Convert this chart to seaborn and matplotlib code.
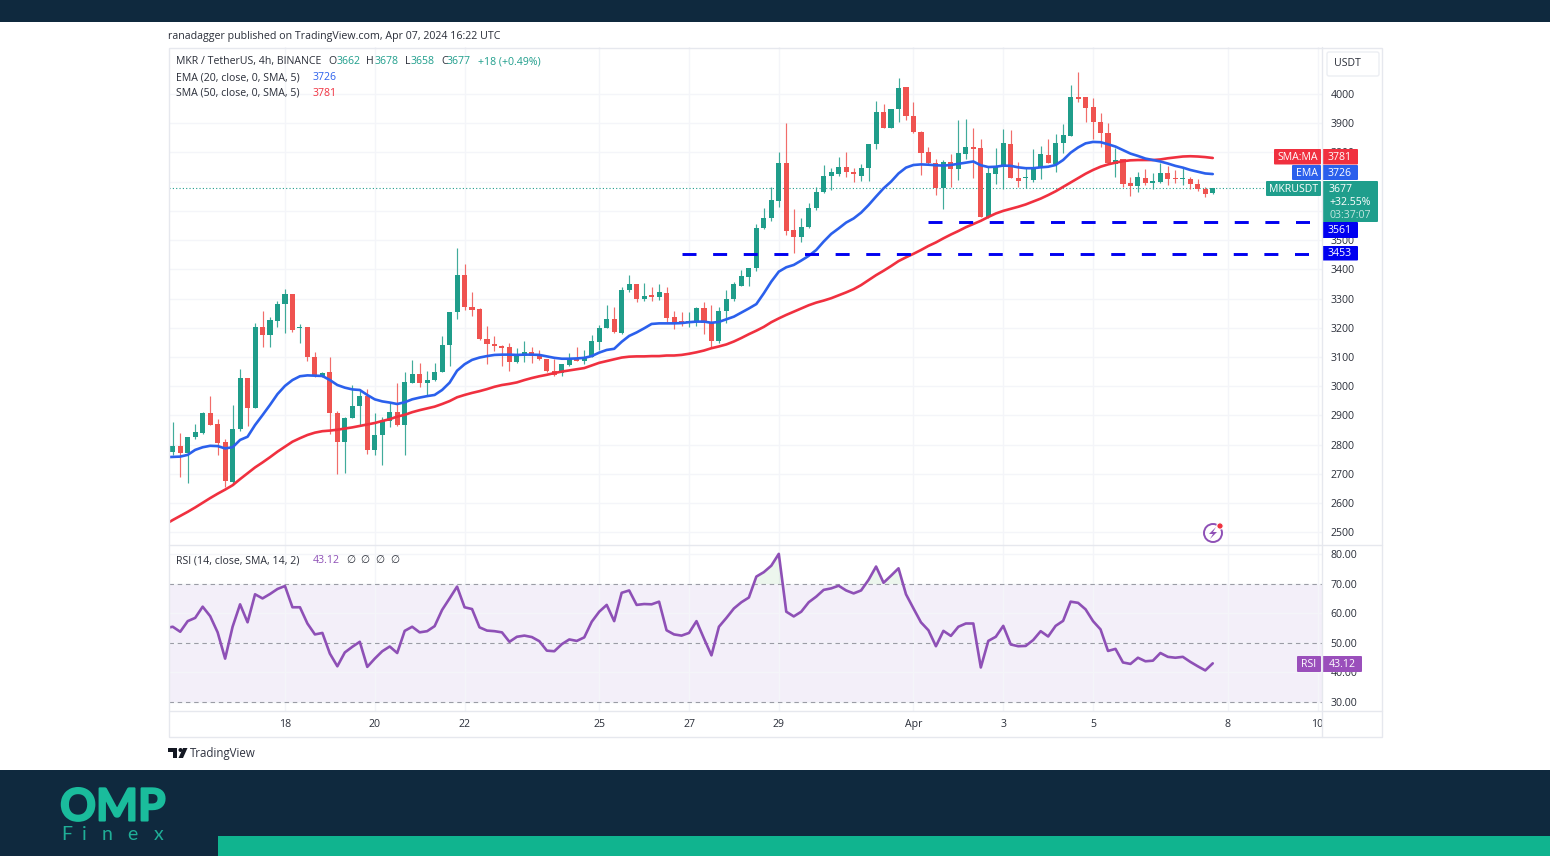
import matplotlib
matplotlib.use('Agg')
import matplotlib.pyplot as plt
from matplotlib.patches import Rectangle, FancyBboxPatch, Circle, Polygon
from matplotlib.patheffects import withStroke
from matplotlib.transforms import Bbox
import numpy as np
import seaborn as sns

# Candles, 4h bars
open_ = [2776, 2797, 2770, 2827, 2841, 2907, 2870, 2810, 2673, 2853,
         3028, 2927, 3201, 3175, 3224, 3281, 3314, 3199, 3201, 3101,
         3035, 3047, 2907, 2809, 2892, 2932, 2968, 2780, 2833, 2881,
         2910, 2866, 3012, 3042, 3010, 3021, 3050, 3141, 3255, 3380,
         3272, 3263, 3161, 3144, 3139, 3133, 3084, 3105, 3116, 3107,
         3092, 3053, 3044, 3073, 3095, 3087, 3101, 3152, 3198, 3230,
         3181, 3329, 3349, 3297, 3312, 3304, 3320, 3237, 3221, 3215,
         3221, 3269, 3217, 3155, 3258, 3297, 3343, 3375, 3403, 3540,
         3574, 3635, 3765, 3534, 3512, 3544, 3609, 3666, 3719, 3726,
         3750, 3732, 3719, 3748, 3829, 3937, 3882, 3947, 4023, 3925,
         3871, 3800, 3763, 3677, 3768, 3743, 3795, 3817, 3814, 3578,
         3726, 3751, 3830, 3713, 3711, 3706, 3746, 3792, 3761, 3831,
         3856, 3989, 3991, 3954, 3905, 3868, 3759, 3776, 3694, 3686,
         3713, 3697, 3699, 3728, 3711, 3708, 3710, 3692, 3675, 3662]
high = [2879, 2841, 2827, 2871, 2913, 2966, 2888, 2818, 2936, 3058,
        3028, 3217, 3257, 3238, 3292, 3334, 3314, 3212, 3204, 3118,
        3050, 3099, 2916, 2893, 3004, 2985, 2991, 2907, 2896, 2941,
        3012, 3047, 3090, 3078, 3053, 3078, 3173, 3255, 3472, 3418,
        3323, 3269, 3206, 3173, 3141, 3147, 3130, 3155, 3133, 3124,
        3092, 3092, 3076, 3115, 3135, 3124, 3175, 3210, 3278, 3272,
        3341, 3381, 3349, 3352, 3341, 3350, 3338, 3258, 3255, 3255,
        3272, 3289, 3278, 3272, 3329, 3357, 3398, 3403, 3555, 3611,
        3683, 3800, 3902, 3605, 3574, 3628, 3683, 3757, 3748, 3783,
        3803, 3746, 3760, 3829, 3977, 3965, 3947, 4054, 4023, 3974,
        3873, 3817, 3776, 3774, 3793, 3911, 3913, 3883, 3846, 3751,
        3816, 3879, 3877, 3768, 3751, 3811, 3822, 3845, 3863, 3896,
        4031, 4074, 3991, 3987, 3934, 3902, 3814, 3778, 3717, 3734,
        3742, 3731, 3765, 3754, 3740, 3745, 3717, 3708, 3683, 3678]
low = [2765, 2688, 2670, 2818, 2835, 2867, 2765, 2654, 2662, 2848,
       2864, 2924, 3133, 3135, 3204, 3183, 3186, 3149, 3087, 3033,
       3033, 2836, 2699, 2702, 2890, 2867, 2768, 2765, 2731, 2861,
       2864, 2765, 3010, 2998, 2970, 3019, 3050, 3069, 3230, 3261,
       3240, 3158, 3076, 3122, 3069, 3053, 3078, 3084, 3080, 3090,
       3047, 3035, 3035, 3070, 3087, 3075, 3099, 3124, 3198, 3181,
       3179, 3324, 3289, 3291, 3291, 3295, 3221, 3195, 3206, 3204,
       3206, 3179, 3135, 3147, 3215, 3293, 3343, 3343, 3395, 3537,
       3565, 3612, 3517, 3455, 3495, 3540, 3603, 3662, 3671, 3719,
       3715, 3698, 3703, 3703, 3811, 3882, 3882, 3905, 3911, 3868,
       3723, 3757, 3654, 3605, 3680, 3706, 3776, 3711, 3580, 3575,
       3692, 3674, 3711, 3681, 3677, 3700, 3708, 3763, 3734, 3799,
       3856, 3974, 3905, 3846, 3817, 3763, 3715, 3683, 3652, 3666,
       3689, 3674, 3696, 3689, 3694, 3689, 3674, 3669, 3646, 3658]
close = [2797, 2770, 2827, 2843, 2907, 2867, 2805, 2675, 2853, 3028,
         2927, 3204, 3175, 3226, 3281, 3314, 3192, 3201, 3099, 3035,
         3044, 2907, 2809, 2892, 2932, 2968, 2780, 2833, 2881, 2910,
         2866, 3016, 3042, 3010, 3021, 3050, 3141, 3255, 3380, 3270,
         3261, 3160, 3143, 3137, 3132, 3084, 3107, 3116, 3105, 3092,
         3052, 3038, 3075, 3093, 3087, 3101, 3155, 3200, 3230, 3184,
         3329, 3349, 3297, 3310, 3306, 3321, 3234, 3215, 3218, 3223,
         3266, 3217, 3156, 3258, 3297, 3350, 3377, 3403, 3542, 3577,
         3637, 3765, 3531, 3512, 3544, 3611, 3666, 3719, 3732, 3750,
         3734, 3725, 3748, 3829, 3937, 3882, 3947, 4019, 3925, 3869,
         3799, 3763, 3677, 3768, 3743, 3799, 3817, 3813, 3580, 3728,
         3751, 3833, 3711, 3702, 3713, 3749, 3795, 3763, 3833, 3859,
         3991, 3983, 3953, 3905, 3865, 3763, 3774, 3692, 3686, 3715,
         3694, 3702, 3728, 3708, 3708, 3711, 3692, 3674, 3658, 3677]

# indicator lines start one bar before the first visible candle
ema_20 = [2757, 2758, 2759, 2765, 2782, 2791, 2796, 2795, 2787, 2791, 2816,
          2827, 2867, 2901, 2936, 2973, 3001, 3021, 3034, 3037, 3036,
          3035, 3021, 3004, 2995, 2989, 2987, 2970, 2955, 2948, 2944,
          2939, 2945, 2955, 2961, 2966, 2970, 2987, 3012, 3053, 3075,
          3090, 3098, 3103, 3107, 3108, 3108, 3107, 3108, 3108, 3107,
          3102, 3097, 3094, 3094, 3095, 3097, 3103, 3115, 3124, 3128,
          3152, 3172, 3184, 3198, 3213, 3215, 3215, 3215, 3216, 3219,
          3221, 3221, 3217, 3220, 3229, 3238, 3252, 3266, 3281, 3318,
          3358, 3392, 3407, 3415, 3430, 3446, 3466, 3495, 3521, 3540,
          3560, 3574, 3594, 3620, 3649, 3677, 3700, 3728, 3748, 3757,
          3759, 3758, 3756, 3755, 3757, 3761, 3765, 3769, 3756, 3750,
          3751, 3755, 3754, 3749, 3746, 3746, 3749, 3751, 3757, 3774,
          3799, 3817, 3831, 3836, 3835, 3828, 3820, 3808, 3796, 3788,
          3779, 3774, 3769, 3762, 3754, 3748, 3740, 3734, 3728, 3726]
sma_50 = [2527, 2542, 2556, 2570, 2585, 2601, 2617, 2632, 2646, 2661, 2682,
          2702, 2722, 2739, 2757, 2776, 2793, 2810, 2822, 2833, 2841,
          2846, 2848, 2851, 2855, 2859, 2864, 2869, 2874, 2881, 2887,
          2896, 2902, 2911, 2918, 2924, 2930, 2939, 2949, 2962, 2970,
          2977, 2983, 2990, 2998, 3004, 3008, 3013, 3021, 3028, 3034,
          3039, 3045, 3050, 3054, 3058, 3062, 3071, 3080, 3086, 3092,
          3098, 3101, 3102, 3102, 3103, 3103, 3105, 3105, 3107, 3111,
          3116, 3122, 3130, 3136, 3143, 3153, 3165, 3178, 3190, 3203,
          3219, 3232, 3244, 3255, 3266, 3277, 3286, 3293, 3301, 3311,
          3321, 3332, 3346, 3363, 3380, 3395, 3411, 3428, 3441, 3453,
          3466, 3480, 3492, 3506, 3519, 3531, 3544, 3555, 3566, 3579,
          3591, 3600, 3607, 3614, 3622, 3632, 3642, 3654, 3667, 3682,
          3697, 3712, 3727, 3740, 3751, 3759, 3765, 3770, 3773, 3774,
          3774, 3774, 3776, 3780, 3783, 3786, 3787, 3786, 3784, 3781]
rsi_14 = [55, 55.5, 53.8, 57.4, 58.5, 62.3, 59.1, 53.6, 44.7, 55.5, 63.1,
          57.0, 66.5, 65.1, 66.6, 68.3, 69.3, 62.1, 62.1, 56.6, 52.9,
          53.4, 46.4, 42.1, 46.8, 48.7, 50.4, 41.9, 44.7, 47.2, 48.8,
          46.6, 54.1, 55.5, 53.6, 54.0, 55.7, 61.2, 65.1, 69.1, 62.1,
          61.5, 55.3, 54.2, 54.0, 53.6, 50.4, 52.1, 52.5, 52.0, 50.6,
          47.4, 47.2, 49.6, 51.2, 50.7, 51.9, 57.2, 60.6, 62.9, 57.4,
          67.0, 67.8, 62.9, 63.2, 63.1, 64.0, 54.3, 52.9, 52.5, 53.4,
          57.4, 51.5, 45.8, 55.5, 58.5, 61.7, 63.8, 65.4, 72.5, 74.0,
          76.2, 80.2, 60.6, 59.0, 60.6, 63.8, 65.7, 68.0, 68.5, 69.4,
          67.8, 66.8, 67.8, 71.4, 75.9, 70.4, 72.8, 75.3, 66.5, 61.7,
          57.0, 54.3, 48.9, 54.1, 52.4, 55.5, 56.6, 56.6, 41.7, 50.7,
          52.1, 55.8, 49.5, 48.9, 49.0, 51.0, 54.0, 52.2, 55.8, 57.5,
          64.0, 63.6, 61.4, 57.4, 54.6, 47.3, 48.0, 43.4, 42.9, 45.0,
          43.8, 44.0, 46.6, 45.3, 45.0, 45.3, 43.6, 42.1, 40.7, 43.1]

date_bars = [15, 27, 39, 57, 69, 81, 99, 111, 123, 141, 153]
date_labels = ['18', '20', '22', '25', '27', '29', 'Apr', '3', '5', '8', '10']
price_ticks = list(range(2500, 4100, 100))
hidden_prices = [3600, 3700]  # sit under the last price tag
rsi_ticks = [30, 40, 50, 60, 70, 80]
rsi_levels = [30, 50, 70]

# support levels drawn on the chart: price, first bar, last bar
level_prices = [3561, 3453]
level_starts = [101, 68]
level_end = 152

W, H = 1550, 856
NAVY = '#0f293e'
GREEN = '#10b48f'
TEAL = '#1f9e8c'
UP = '#1f9d8a'
DOWN = '#ef5350'
BLUE = '#2b60ec'
RED = '#f0303f'
LEVEL = '#0000f0'
PURPLE = '#8e50b6'
TXT = '#2a2e39'
GRID = '#f4f5f9'
BORDER = '#e6e8ee'
FONT = ['Open Sans', 'DejaVu Sans']
SIZE = 7.6

sns.set_theme(style='white')
plt.rcParams['font.family'] = FONT
plt.rcParams['font.size'] = SIZE

fig = plt.figure(figsize=(W / 100, H / 100), dpi=100, facecolor='white')


def px_axes(left, top, right, bottom, **kw):
    return fig.add_axes([left / W, 1 - bottom / H, (right - left) / W, (bottom - top) / H], **kw)


ax = px_axes(169, 47, 1322, 545)
ax_rsi = px_axes(169, 545, 1322, 711)
bars = np.arange(len(close))
line_bars = np.arange(-1, len(close))

for a in (ax, ax_rsi):
    a.set_xlim(-0.5, 153.6)
    a.set_xticks(date_bars)
    a.grid(True, color=GRID, lw=1)
    a.set_axisbelow(True)
    a.yaxis.tick_right()
    a.tick_params(axis='y', length=0, pad=6, labelsize=SIZE, labelcolor=TXT)
    for s in a.spines.values():
        s.set_visible(False)

# price pane
ax.set_ylim(2456.5, 4160.8)
ax.set_yticks(price_ticks)
ax.set_yticklabels(['' if p in hidden_prices else str(p) for p in price_ticks])
ax.tick_params(axis='x', length=0, labelbottom=False)

o = np.array(open_)
c = np.array(close)
colors = [UP if u else DOWN for u in c >= o]
ax.vlines(bars, low, high, colors=colors, lw=0.85, alpha=0.85, zorder=2)
ax.bar(bars, np.maximum(np.abs(c - o), 4), bottom=np.minimum(o, c), width=0.68, color=colors, lw=0, zorder=3)

sns.lineplot(x=line_bars, y=sma_50, ax=ax, color=RED, lw=1.9, zorder=4, solid_capstyle='round')
sns.lineplot(x=line_bars, y=ema_20, ax=ax, color=BLUE, lw=1.9, zorder=4, solid_capstyle='round')
ax.set_xlabel('')
ax.set_ylabel('')

ax.axhline(close[-1], color=TEAL, lw=0.8, ls=(0, (1, 2)), zorder=1)
for price, start in zip(level_prices, level_starts):
    ax.plot([start, level_end], [price, price], color=LEVEL, lw=2.1, ls=(0, (4.8, 5.7)),
            dash_capstyle='butt', zorder=5)

# rsi pane
ax_rsi.set_ylim(26.95, 83.2)
ax_rsi.set_yticks(rsi_ticks)
ax_rsi.set_yticklabels(['%.2f' % t for t in rsi_ticks])
ax_rsi.axhspan(30, 70, color='#7e57c2', alpha=0.09, lw=0, zorder=0)
for lvl in rsi_levels:
    ax_rsi.axhline(lvl, color='#9a9ca5', lw=0.8, ls=(0, (4, 3.4)), zorder=1)
rsi = np.array(rsi_14)
ax_rsi.fill_between(line_bars, 70, rsi, where=rsi > 70, color='#4caf50', alpha=0.1, lw=0, interpolate=True, zorder=1)
sns.lineplot(x=line_bars, y=rsi_14, ax=ax_rsi, color=PURPLE, lw=1.9, zorder=3)
ax_rsi.set_xlabel('')
ax_rsi.set_ylabel('')
ax_rsi.set_xticklabels(date_labels)
ax_rsi.tick_params(axis='x', length=0, pad=6, labelsize=SIZE, labelcolor=TXT)
for t in ax_rsi.get_xticklabels():
    t.set_clip_on(True)
    t.set_clip_box(Bbox([[0, 0], [1322, H]]))

# everything else in pixel coordinates of the picture
ov = fig.add_axes([0, 0, 1, 1], zorder=10)
ov.set_xlim(0, W)
ov.set_ylim(H, 0)
ov.axis('off')

# page bands
ov.add_patch(Rectangle((0, 0), W, 22, color=NAVY, lw=0))
ov.add_patch(Rectangle((0, 770), W, 86, color=NAVY, lw=0))
ov.add_patch(Rectangle((218, 836), W - 218, 20, color=GREEN, lw=0))

# chart frame
ov.add_patch(Rectangle((168.5, 47.5), 1213, 689, fill=False, ec=BORDER, lw=1))
ov.plot([1322, 1322], [47, 737], color=BORDER, lw=1)
ov.plot([169, 1382], [545, 545], color=BORDER, lw=1)
ov.plot([169, 1382], [711, 711], color=BORDER, lw=1)


def t(x, y, s, color=TXT, size=SIZE, ha='left', **kw):
    ov.text(x, y + 1.2, s, color=color, fontsize=size, ha=ha, va='center', **kw)


t(168, 35.5, 'ranadagger published on TradingView.com, Apr 07, 2024 16:22 UTC', size=7.68)

# legend rows
t(176, 60.5, 'MKR / TetherUS, 4h, BINANCE')
for x, s in [(328.5, 'O'), (366, 'H'), (404.5, 'L'), (441, 'C')]:
    t(x, 60.5, s)
for x, s in [(337, '3662'), (375, '3678'), (411, '3658'), (447, '3677'), (478, '+18 (+0.49%)')]:
    t(x, 60.5, s, color=TEAL)
t(176, 76.5, 'EMA (20, close, 0, SMA, 5)')
t(313, 76.5, '3726', color=BLUE)
t(176, 92, 'SMA (50, close, 0, SMA, 5)')
t(313, 92, '3781', color=RED)
t(176, 559.5, 'RSI (14, close, SMA, 14, 2)')
t(313, 559.5, '43.12', color=PURPLE)
for x in (346, 360, 375, 390):
    t(x, 559.5, '\u2205')


# scale tags
def tag(x0, x1, y0, y1, s, color, tc='white'):
    ov.add_patch(FancyBboxPatch((x0 + 1, y0 + 1), x1 - x0 - 2, y1 - y0 - 2, boxstyle='round,pad=1',
                                fc=color, ec='none'))
    t((x0 + x1) / 2, (y0 + y1) / 2 - 0.5, s, color=tc, ha='center')


ov.add_patch(FancyBboxPatch((1329, 54), 48, 20, boxstyle='round,pad=2', fc='white', ec='#eceef3', lw=1))
t(1347, 62.5, 'USDT', ha='center')
tag(1274, 1321, 149, 164.5, 'SMA:MA', RED)
tag(1322, 1358, 149, 164.5, '3781', RED)
tag(1292, 1321, 165, 180, 'EMA', BLUE)
tag(1322, 1358, 165, 180, '3726', BLUE)
tag(1266, 1321, 181, 196, 'MKRUSDT', TEAL)
ov.add_patch(FancyBboxPatch((1323, 182), 54, 39, boxstyle='round,pad=1', fc=TEAL, ec='none'))
t(1329, 188, '3677', color='white')
t(1329, 201, '+32.55%', color='white')
t(1329, 214, '03:37:07', color='#c4e6e0')
tag(1322, 1358, 222, 238, '3561', LEVEL)
tag(1322, 1358, 246, 260.5, '3453', LEVEL)
tag(1297, 1321, 656, 672, 'RSI', '#9a4fbb')
tag(1322, 1362, 656, 672, '43.12', '#9a4fbb')

# flash icon next to the last bar
ov.add_patch(Circle((1213, 533), 9, fill=False, ec=PURPLE, lw=1.4))
ov.add_patch(Polygon([(1216, 527), (1209, 534), (1213, 534), (1210, 539), (1217, 532), (1213, 532)],
                     fc=PURPLE, ec='none'))
ov.add_patch(Circle((1220, 526), 3.2, fc='#ef3340', ec='white', lw=0.8))

# TradingView mark
ov.add_patch(Polygon([(168, 748), (177, 748), (177, 758), (173, 758), (173, 752), (168, 752)], fc='#131722', ec='none'))
ov.add_patch(Circle((180.5, 750), 2, fc='#131722', ec='none'))
ov.add_patch(Polygon([(183, 748), (187.5, 748), (183, 758), (178.5, 758)], fc='#131722', ec='none'))
ov.text(190, 753, 'TradingView', color='#2f3340', fontsize=8.3, ha='left', va='center')

# OMP Finex logo
ov.text(113, 807.5, 'OMP', color='#1abc9c', fontsize=32, fontweight='bold', ha='center', va='center',
        family=['Lato', 'DejaVu Sans'], path_effects=[withStroke(linewidth=1.5, foreground='#1abc9c')])
for x, s in [(67, 'F'), (84, 'i'), (107, 'n'), (132, 'e'), (159, 'x')]:
    ov.text(x, 835, s, color='#1fae97', fontsize=14, fontweight='normal', ha='center', va='center',
            family=['Lato', 'DejaVu Sans'])

fig.savefig('out.png', dpi=100)
